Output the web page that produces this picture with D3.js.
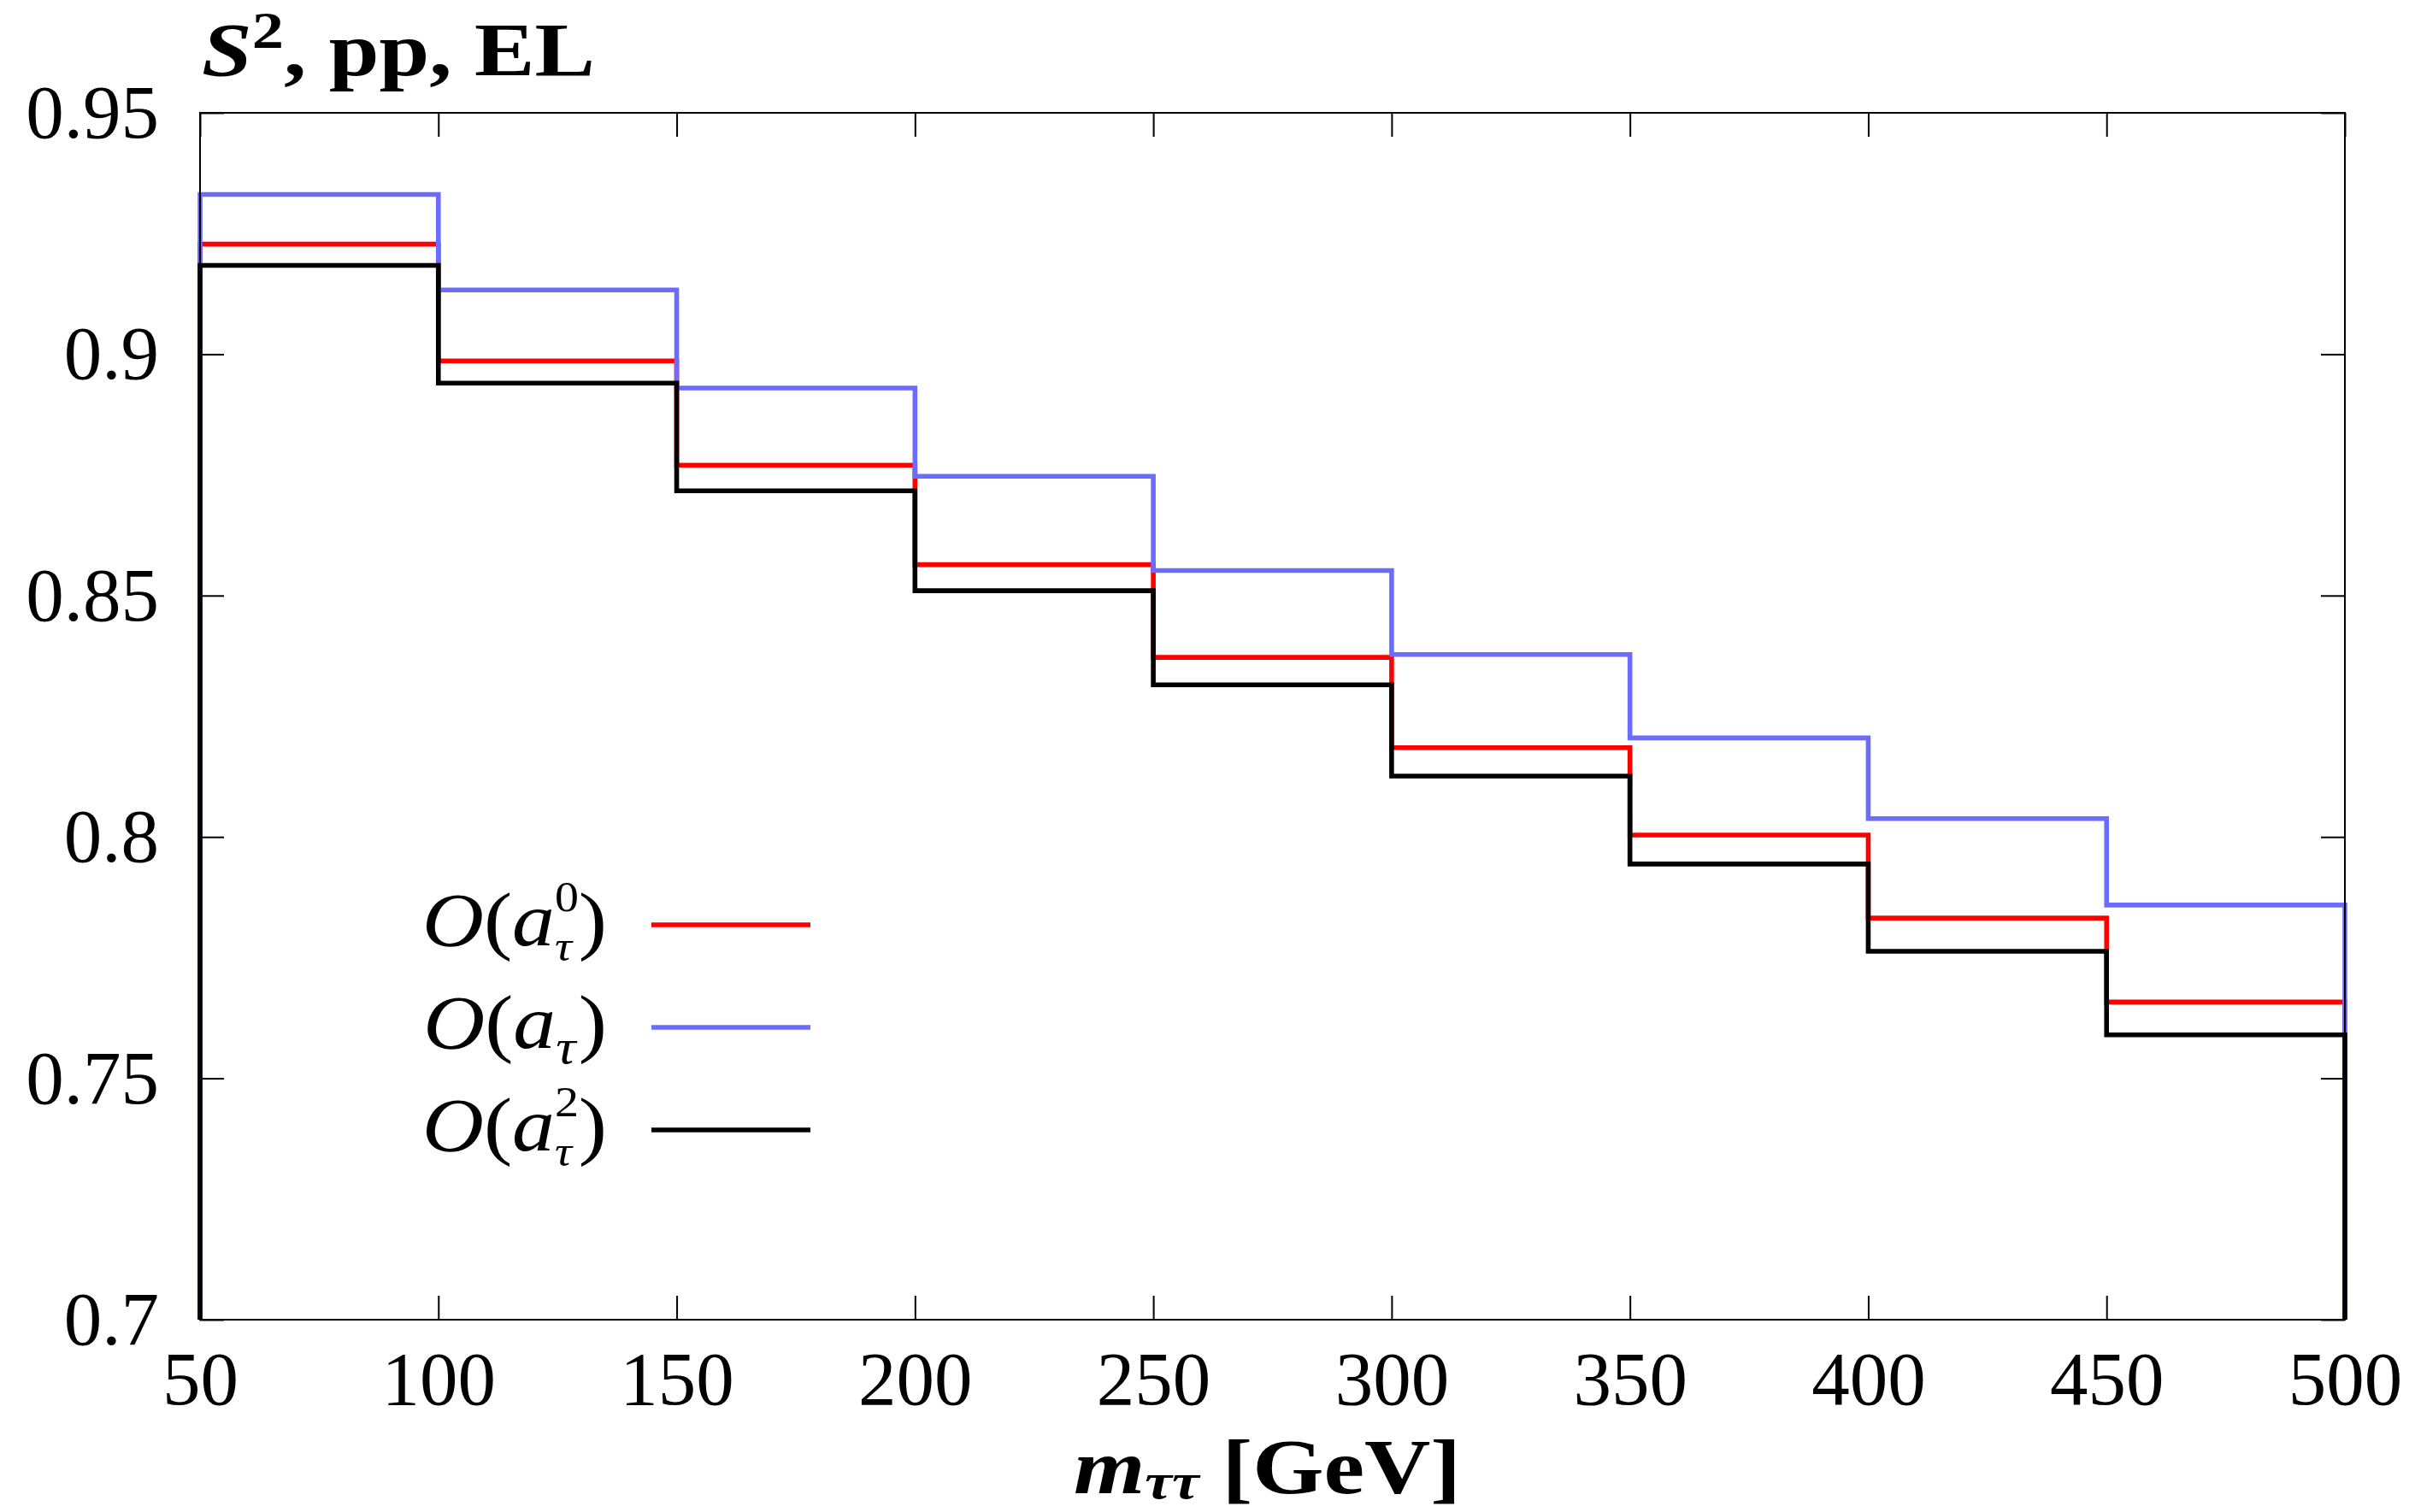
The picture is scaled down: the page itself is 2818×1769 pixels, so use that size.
<!DOCTYPE html>
<html>
<head>
<meta charset="utf-8">
<script src="https://cdn.jsdelivr.net/npm/d3@7"></script>
<style>
	body { margin: 0; background: #fff; }
	text { font-family: "Liberation Serif", "DejaVu Serif", serif; fill: #000; }
	.axis path.domain { display: none; }
	.axis line { stroke: #000; stroke-width: 2; }
</style>
</head>
<body>
<div class="chart"></div>
<script>
//---->DATA<-----//
const binEdges = [50, 100, 150, 200, 250, 300, 350, 400, 450, 500];

const seriesA0 = [0.9228, 0.8986, 0.8770, 0.8564, 0.8372, 0.8185, 0.8004, 0.7832, 0.7658];
const seriesA1 = [0.9331, 0.9133, 0.8930, 0.8747, 0.8552, 0.8378, 0.8205, 0.8038, 0.7859];
const seriesA2 = [0.9184, 0.8940, 0.8717, 0.8510, 0.8315, 0.8126, 0.7944, 0.7763, 0.7590];

const xTicks = [50, 100, 150, 200, 250, 300, 350, 400, 450, 500];
const yTicks = [0.7, 0.75, 0.8, 0.85, 0.9, 0.95];

// legend rows: sup = superscript on a, null means none
const legendSup = ['0', null, '2'];
const seriesColors = ['#ff0000', '#6b6bff', '#000000'];

//---->LAYOUT<-----//
const outerW = 2818,
	outerH = 1769;

const margin = {
	left: 234,
	right: 75,
	top: 132,
	bottom: 225
};

const w = outerW - margin.left - margin.right,
	h = outerH - margin.top - margin.bottom;

const tickLen = 28,
	fontSize = 89;

const x = d3.scaleLinear().domain([50, 500]).range([0, w]);
const y = d3.scaleLinear().domain([0.7, 0.95]).range([h, 0]);

const svg = d3.select('.chart').append('svg')
	.attr('width', outerW)
	.attr('height', outerH);

const g = svg.append('g')
	.attr('transform', `translate(${margin.left}, ${margin.top})`);

const fmt = d => String(+d.toFixed(2));

// Axes, ticks point inward on all four sides
g.append('g')
	.attr('class', 'x axis')
	.attr('transform', `translate(0, ${h})`)
	.call(d3.axisBottom(x)
		.tickValues(xTicks)
		.tickSize(-tickLen)
		.tickSizeOuter(0)
		.tickPadding(36)
		.tickFormat(fmt))
	.selectAll('text')
	.style('font-size', fontSize + 'px')
	.style('font-family', '"Liberation Serif", serif');

g.append('g')
	.attr('class', 'x axis')
	.call(d3.axisTop(x)
		.tickValues(xTicks)
		.tickSize(-tickLen)
		.tickSizeOuter(0)
		.tickFormat(''));

g.append('g')
	.attr('class', 'y axis')
	.call(d3.axisLeft(y)
		.tickValues(yTicks)
		.tickSize(-tickLen)
		.tickSizeOuter(0)
		.tickPadding(48)
		.tickFormat(fmt))
	.selectAll('text')
	.style('font-size', fontSize + 'px')
	.style('font-family', '"Liberation Serif", serif');

g.append('g')
	.attr('class', 'y axis')
	.attr('transform', `translate(${w}, 0)`)
	.call(d3.axisRight(y)
		.tickValues(yTicks)
		.tickSize(-tickLen)
		.tickSizeOuter(0)
		.tickFormat(''));

// Histogram outlines: from baseline up, across each bin, back down
function stepPoints(vals) {
	const pts = [[binEdges[0], y.domain()[0]]];
	vals.forEach((v, i) => {
		pts.push([binEdges[i], v]);
		pts.push([binEdges[i + 1], v]);
	});
	pts.push([binEdges[binEdges.length - 1], y.domain()[0]]);
	return pts;
}

const line = d3.line()
	.x(d => x(d[0]))
	.y(d => y(d[1]));

const allSeries = [seriesA0, seriesA1, seriesA2];

g.selectAll('.step')
	.data(allSeries)
	.enter()
	.append('path')
	.attr('class', 'step')
	.attr('d', d => line(stepPoints(d)))
	.attr('fill', 'none')
	.attr('stroke', (d, i) => seriesColors[i])
	.attr('stroke-width', 5.6)
	.attr('stroke-linejoin', 'miter');

// Frame
g.append('rect')
	.attr('x', 0)
	.attr('y', 0)
	.attr('width', w)
	.attr('height', h)
	.attr('fill', 'none')
	.attr('stroke', '#000')
	.attr('stroke-width', 2);

// Legend
const legend = svg.append('g')
	.attr('class', 'legend');

legendSup.forEach((sup, i) => {
	const ly = 1082 + i * 120;

	legend.append('line')
		.attr('x1', 762)
		.attr('x2', 948)
		.attr('y1', ly)
		.attr('y2', ly)
		.attr('stroke', seriesColors[i])
		.attr('stroke-width', 5.6);

	const t = legend.append('text')
		.attr('transform', `translate(710, ${ly + 24}) scale(1.12, 1)`)
		.attr('text-anchor', 'end')
		.style('font-size', fontSize + 'px');

	t.append('tspan').style('font-style', 'italic').text('O');
	t.append('tspan').text('(');
	t.append('tspan').style('font-style', 'italic').text('a');
	if (sup) {
		// superscript and subscript stacked over each other
		t.append('tspan')
			.attr('dy', -40)
			.style('font-size', '50px')
			.text(sup);
		t.append('tspan')
			.attr('dx', -25)
			.attr('dy', 58)
			.style('font-size', '50px')
			.style('font-style', 'italic')
			.text('τ');
		t.append('tspan').attr('dy', -18).attr('dx', 7).text(')');
	} else {
		t.append('tspan')
			.attr('dy', 18)
			.style('font-size', '58px')
			.style('font-style', 'italic')
			.text('τ');
		t.append('tspan').attr('dy', -18).attr('dx', 3).text(')');
	}
});

// Title (bold extended look: stretched horizontally)
const title = svg.append('text')
	.attr('transform', 'translate(236, 88) scale(1.2, 1)')
	.style('font-size', '88px')
	.style('font-weight', 'bold');

title.append('tspan').style('font-style', 'italic').text('S');
title.append('tspan').attr('dy', -32).style('font-size', '62px').text('2');
title.append('tspan').attr('dy', 32).text(', pp, EL');

// X axis label
const xLabel = svg.append('text')
	.attr('transform', `translate(${margin.left + w / 2 - 6}, 1747) scale(1.19, 1)`)
	.attr('text-anchor', 'middle')
	.style('font-size', '90px')
	.style('font-weight', 'bold');

xLabel.append('tspan').style('font-style', 'italic').text('m');
xLabel.append('tspan')
	.attr('dy', 6)
	.style('font-size', '60px')
	.style('font-style', 'italic')
	.text('ττ');
xLabel.append('tspan').attr('dy', -6).text(' [GeV]');
</script>
</body>
</html>
